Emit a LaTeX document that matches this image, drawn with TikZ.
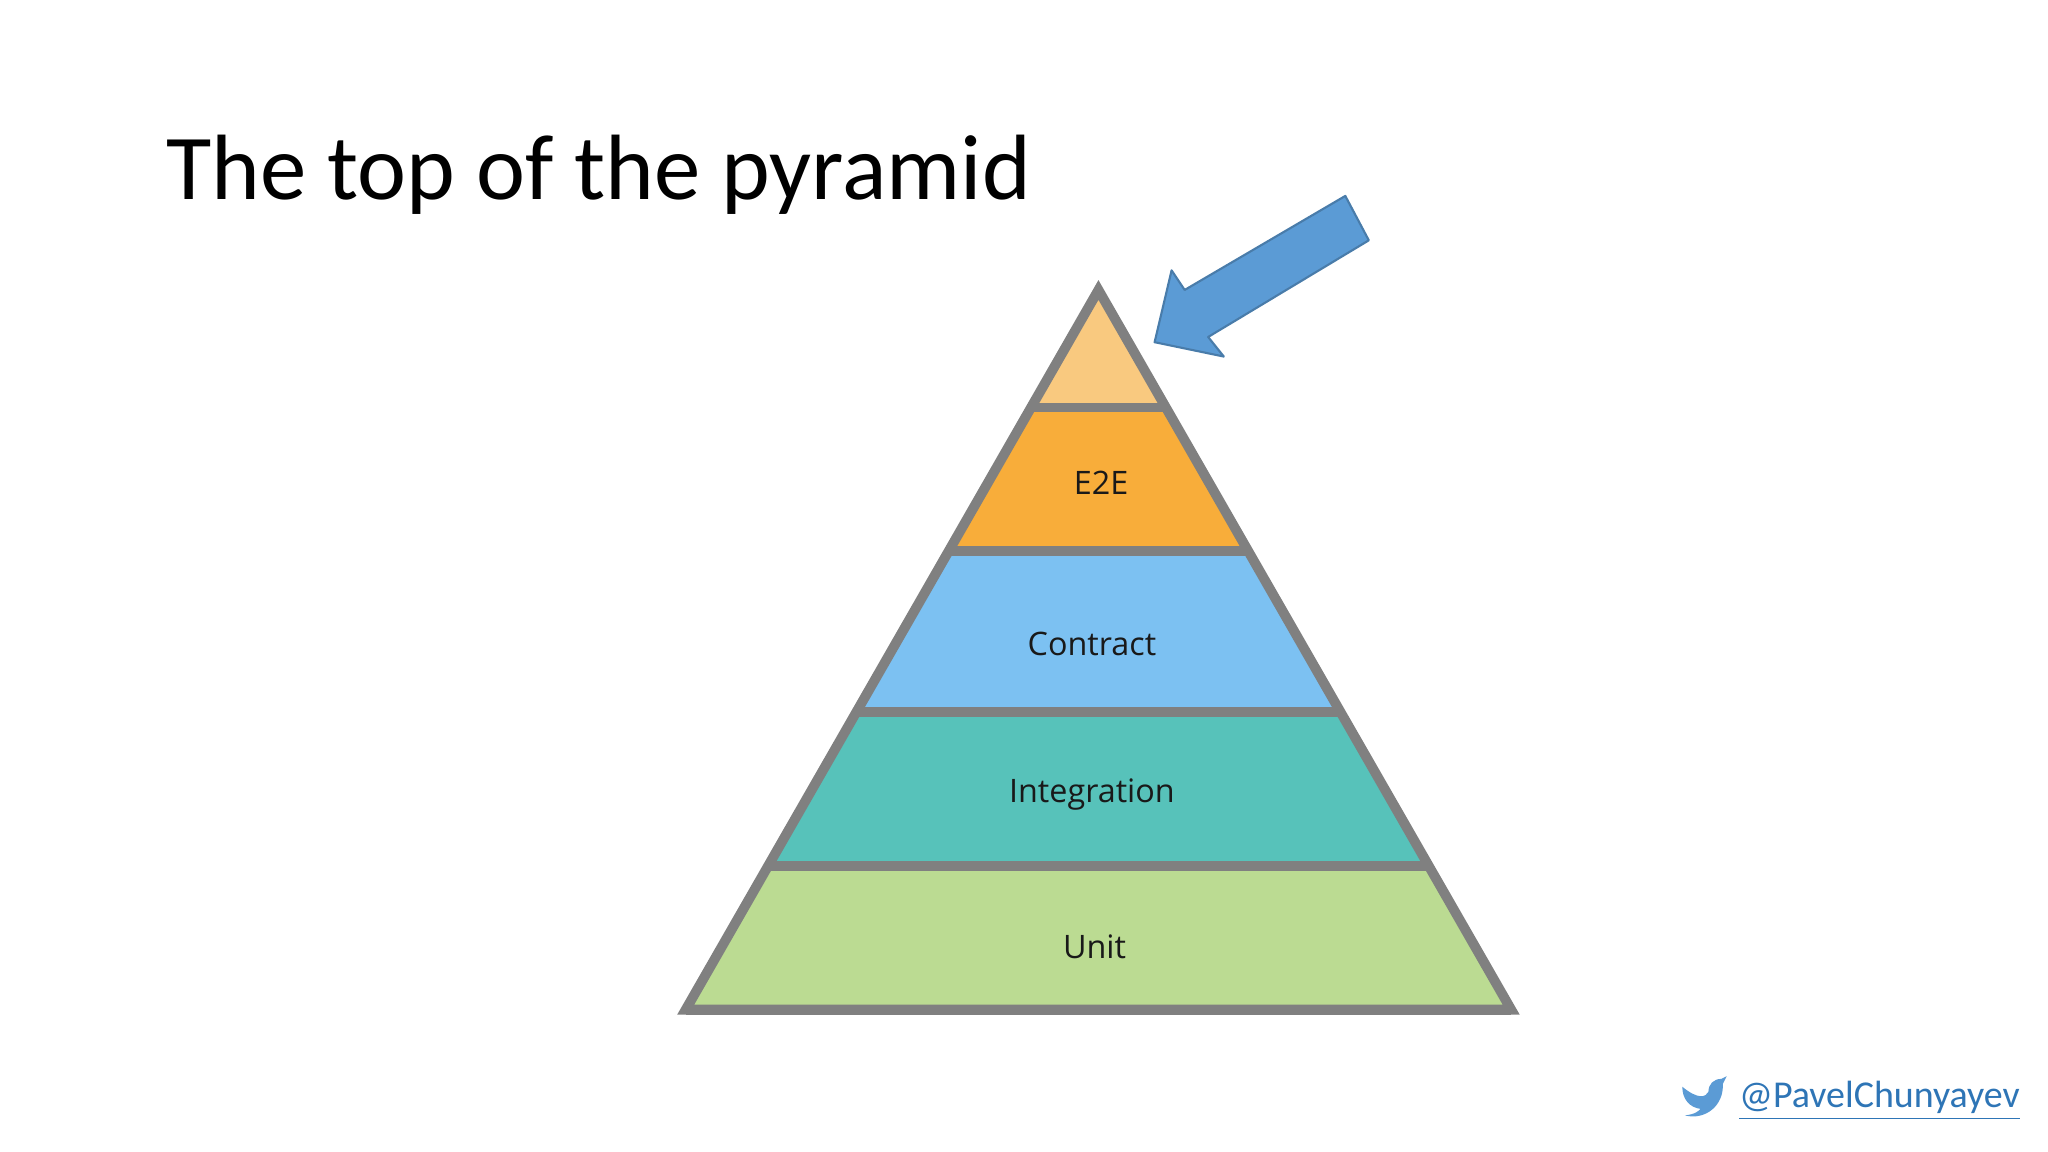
\documentclass[tikz,border=0pt]{standalone}
\usepackage{fontspec}
\setmainfont{Carlito}
\newfontfamily\labelfont{Open Sans}
\usetikzlibrary{positioning,calc}
\definecolor{topc}{HTML}{F9C97F}
\definecolor{etoe}{HTML}{F8AD3A}
\definecolor{contr}{HTML}{7CC1F2}
\definecolor{integ}{HTML}{57C2BA}
\definecolor{unitc}{HTML}{BBDB92}
\definecolor{edgegray}{HTML}{808080}
\definecolor{arrowblue}{HTML}{5B9BD5}
\definecolor{linkblue}{HTML}{2E75B6}
\begin{document}
\begin{tikzpicture}[x=0.013061cm,y=-0.013061cm,
  band/.style={draw=edgegray,line width=2.8pt,line join=miter},
  lbl/.style={font=\labelfont\fontsize{9.2}{11}\selectfont,text=black!90}]
\useasboundingbox (0,0) rectangle (1568,882);
% pyramid corners
\coordinate (apex) at (841,222);
\coordinate (bl) at (525,773);
\coordinate (br) at (1157,773);
% bands, bottom to top
\foreach \ya/\yb/\col in {663/773/unitc,545/663/integ,422/545/contr,312/422/etoe,222/312/topc}{
  \fill[\col] ($(apex)!{(\ya-222)/551}!(bl)$) -- ($(apex)!{(\yb-222)/551}!(bl)$)
    -- ($(apex)!{(\yb-222)/551}!(br)$) -- ($(apex)!{(\ya-222)/551}!(br)$) -- cycle;
  \draw[band] ($(apex)!{(\yb-222)/551}!(bl)$) -- ($(apex)!{(\yb-222)/551}!(br)$);
}
\draw[band] (bl) -- (apex) -- (br) -- cycle;
\node[lbl] (e2e) at (843,370) {E2E};
\node[lbl] (contract) at (836,493) {Contract};
\node[lbl] (integration) at (836,608) {Integration};
\node[lbl] (unit) at (838,725) {Unit};
% pointer arrow
\filldraw[fill=arrowblue,draw=arrowblue!80!black,line width=0.6pt,line join=round]
  (1030,150) -- (1048,184) -- (925,258) -- (937,273) -- (884,262)
  -- (897,207) -- (907,222) -- cycle;
% title and handle
\node[anchor=base west,font=\fontsize{26.4}{32}\selectfont] (title) at (118,153) {The top of the pyramid};
\node[anchor=base west,font=\fontsize{10.8}{13}\selectfont,text=linkblue] (handle) at (1322,848) {\underline{@PavelChunyayev}};
\fill[arrowblue] (1288,832) .. controls (1300,842) and (1306,840) .. (1308,836)
  .. controls (1308,830) and (1312,826) .. (1318,826) -- (1322,824) -- (1319,830)
  .. controls (1320,846) and (1306,858) .. (1290,854)
  .. controls (1298,853) and (1300,851) .. (1302,849)
  .. controls (1294,848) and (1288,842) .. (1288,832) -- cycle;
\end{tikzpicture}
\end{document}
